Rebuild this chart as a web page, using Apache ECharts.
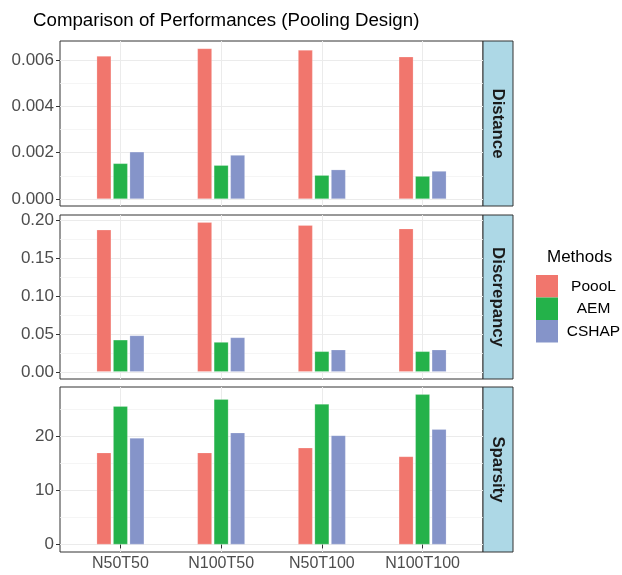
<!DOCTYPE html>
<html>
<head>
<meta charset="utf-8">
<script src="https://cdn.jsdelivr.net/npm/echarts@6/dist/echarts.min.js"></script>
<style>
html, body { margin: 0; padding: 0; background: #fff; }
#chart { width: 622px; height: 575px; }
</style>
</head>
<body>
<div id="chart"></div>
<script>
var categories = ['N50T50', 'N100T50', 'N50T100', 'N100T100'];
var methods = ['PoooL', 'AEM', 'CSHAP'];
var methodColors = ['#F1766D', '#24B24A', '#8594C9'];

// Distance
var distPoooL = [0.00617, 0.0065, 0.00643, 0.00614];
var distAEM = [0.00154, 0.00146, 0.00103, 0.00099];
var distCSHAP = [0.00204, 0.0019, 0.00127, 0.00121];
var distTicks = [0, 0.002, 0.004, 0.006];

// Discrepancy
var discPoooL = [0.188, 0.198, 0.194, 0.1895];
var discAEM = [0.0424, 0.0394, 0.0271, 0.0271];
var discCSHAP = [0.0481, 0.0455, 0.0293, 0.0293];
var discTicks = [0, 0.05, 0.10, 0.15, 0.20];

// Sparsity
var sparPoooL = [17.0, 17.0, 17.9, 16.3];
var sparAEM = [25.6, 26.9, 26.0, 27.8];
var sparCSHAP = [19.7, 20.7, 20.2, 21.35];
var sparTicks = [0, 10, 20];

var FONT = '"Liberation Sans", Arial, Helvetica, sans-serif';
var PLOT_LEFT = 60, PLOT_WIDTH = 423, STRIP_WIDTH = 30;

var panels = [
    {name: 'Distance', top: 41, height: 165, min: -0.0003, max: 0.00682, ticks: distTicks, digits: 3,
        data: [distPoooL, distAEM, distCSHAP]},
    {name: 'Discrepancy', top: 215, height: 164, min: -0.0095, max: 0.2075, ticks: discTicks, digits: 2,
        data: [discPoooL, discAEM, discCSHAP]},
    {name: 'Sparsity', top: 387, height: 165, min: -1.4, max: 29.15, ticks: sparTicks, digits: 0,
        data: [sparPoooL, sparAEM, sparCSHAP]}
];

function minorsOf(ticks) {
    var out = [];
    var step = ticks[1] - ticks[0];
    out.push(ticks[0] - step / 2);
    for (var i = 0; i < ticks.length; i++) out.push(ticks[i] + step / 2);
    return out;
}

var catPositions = categories.map(function (c, i) { return i + 1; });

var grids = [], xAxes = [], yAxes = [], series = [], graphics = [];

panels.forEach(function (p, i) {
    var last = i === panels.length - 1;
    grids.push({
        left: PLOT_LEFT, top: p.top, width: PLOT_WIDTH, height: p.height,
        show: true, borderColor: '#333333', borderWidth: 1, backgroundColor: '#ffffff'
    });
    xAxes.push({
        type: 'value', gridIndex: i, min: 0.4, max: 4.6,
        axisLine: {show: false},
        axisTick: {show: last, customValues: catPositions, length: 4, lineStyle: {color: '#333333', width: 1}},
        axisLabel: {
            show: last, customValues: catPositions, margin: 4,
            color: '#4D4D4D', fontSize: 16, fontFamily: FONT,
            formatter: function (v) { return categories[Math.round(v) - 1]; }
        },
        splitLine: {show: true, lineStyle: {color: '#EBEBEB', width: 1}}
    });
    yAxes.push({
        type: 'value', gridIndex: i, min: p.min, max: p.max,
        axisLine: {show: false},
        axisTick: {show: true, customValues: p.ticks, length: 4, lineStyle: {color: '#333333', width: 1}},
        axisLabel: {
            customValues: p.ticks, margin: 6,
            color: '#4D4D4D', fontSize: 17, fontFamily: FONT,
            formatter: (function (d) { return function (v) { return v.toFixed(d); }; })(p.digits)
        },
        splitLine: {show: true, lineStyle: {color: '#EBEBEB', width: 1.1}}
    });
    yAxes.push({
        type: 'value', gridIndex: i, min: p.min, max: p.max,
        axisLine: {show: false},
        axisTick: {show: false, customValues: minorsOf(p.ticks)},
        axisLabel: {show: false, customValues: minorsOf(p.ticks)},
        splitLine: {show: true, lineStyle: {color: '#F2F2F2', width: 0.8}}
    });

    methods.forEach(function (m, k) {
        series.push({
            type: 'bar', name: m,
            xAxisIndex: i, yAxisIndex: i * 2,
            barWidth: 14.6, barGap: '13%',
            itemStyle: {color: methodColors[k], borderColor: 'rgba(255,255,255,0.35)', borderWidth: 0.6},
            emphasis: {disabled: true},
            data: p.data[k].map(function (v, j) { return [catPositions[j], v]; })
        });
    });

    graphics.push({
        type: 'rect',
        shape: {x: PLOT_LEFT + PLOT_WIDTH, y: p.top, width: STRIP_WIDTH, height: p.height},
        style: {fill: '#ADD8E6', stroke: '#333333', lineWidth: 1}
    });
    graphics.push({
        type: 'text',
        x: PLOT_LEFT + PLOT_WIDTH + STRIP_WIDTH / 2,
        y: p.top + p.height / 2,
        rotation: -Math.PI / 2,
        style: {
            text: p.name, fill: '#1A1A1A', font: 'bold 16.8px ' + FONT,
            align: 'center', verticalAlign: 'middle'
        }
    });
});

var option = {
    animation: false,
    backgroundColor: '#ffffff',
    title: [
        {text: 'Comparison of Performances (Pooling Design)', left: 33, top: 11, padding: 0,
            textStyle: {fontSize: 18.7, fontWeight: 'normal', color: '#000000', fontFamily: FONT}},
        {text: 'Methods', left: 547, top: 249, padding: 0,
            textStyle: {fontSize: 17, fontWeight: 'normal', color: '#000000', fontFamily: FONT}}
    ],
    legend: {
        data: methods, orient: 'vertical', left: 536, top: 275, padding: 0,
        itemWidth: 22, itemHeight: 22.5, itemGap: 0, icon: 'rect', selectedMode: false,
        itemStyle: {borderWidth: 0},
        formatter: function (name) { return '{c|' + name + '}'; },
        textStyle: {
            color: '#000000', fontSize: 15.5, fontFamily: FONT,
            rich: {c: {width: 61, align: 'center', fontSize: 15.5, fontFamily: FONT, color: '#000000'}}
        }
    },
    grid: grids,
    xAxis: xAxes,
    yAxis: yAxes,
    series: series,
    graphic: graphics
};

var chart = echarts.init(document.getElementById('chart'));
chart.setOption(option);
</script>
</body>
</html>
